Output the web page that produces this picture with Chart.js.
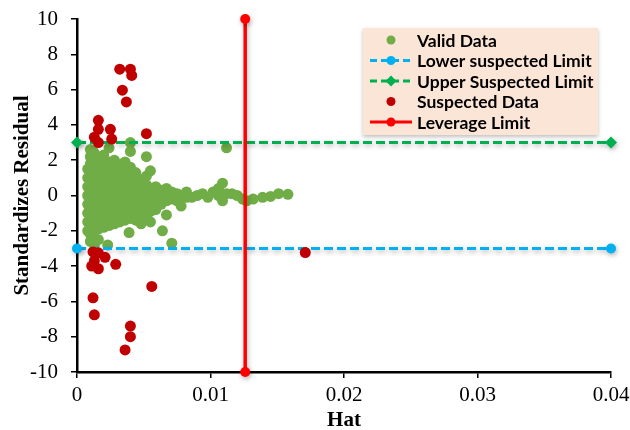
<!DOCTYPE html>
<html>
<head>
<meta charset="utf-8">
<script src="https://cdn.jsdelivr.net/npm/chart.js@4/dist/chart.umd.min.js"></script>
<style>
  html, body { margin: 0; padding: 0; background: #ffffff; }
  #wrap { width: 630px; height: 430px; position: relative; }
</style>
</head>
<body>
<div id="wrap"><canvas id="c"></canvas></div>
<script>
// ---- Data ----
const xTickLabels = ['0', '0.01', '0.02', '0.03', '0.04'];
const yTickLabels = ['-10', '-8', '-6', '-4', '-2', '0', '2', '4', '6', '8', '10'];

const legendLabels = ['Valid Data', 'Lower suspected Limit', 'Upper Suspected Limit', 'Suspected Data', 'Leverage Limit'];

const lowerLimit = -3;
const upperLimit = 3;
const leverageLimit = 0.0126;
const hatRange = [0, 0.04];
const residualRange = [-10, 10];

const validHat = [
  0.0008,0.0008,0.0008,0.0008,0.0008,0.0008,0.0008,0.0008,
  0.0010,0.0010,0.0010,0.0010,0.0010,0.0010,0.0010,0.0010,0.0010,0.0010,0.0010,0.0010,0.0010,0.0010,
  0.0013,0.0013,0.0013,0.0013,0.0013,0.0013,0.0013,0.0013,0.0013,0.0013,0.0013,0.0013,0.0013,0.0013,
  0.0016,0.0016,0.0016,0.0016,0.0016,0.0016,0.0016,0.0016,0.0016,0.0016,0.0016,0.0016,
  0.0020,0.0020,0.0020,0.0020,0.0020,0.0020,0.0020,0.0020,0.0020,0.0020,0.0020,
  0.0024,0.0024,0.0024,0.0024,0.0024,0.0024,0.0024,0.0024,0.0024,0.0024,0.0024,
  0.0028,0.0028,0.0028,0.0028,0.0028,0.0028,0.0028,0.0028,0.0028,0.0028,
  0.0032,0.0032,0.0032,0.0032,0.0032,0.0032,0.0032,0.0032,0.0032,
  0.0036,0.0036,0.0036,0.0036,0.0036,0.0036,0.0036,0.0036,0.0036,
  0.0040,0.0040,0.0040,0.0040,0.0040,0.0040,0.0040,0.0040,0.0040,0.0040,
  0.0044,0.0044,0.0044,0.0044,0.0044,0.0044,0.0044,0.0044,
  0.0048,0.0048,0.0048,0.0048,0.0048,0.0048,0.0048,
  0.0052,0.0052,0.0052,0.0052,0.0052,0.0052,0.0052,
  0.0055,0.0055,0.0055,0.0055,0.0055,0.0055,
  0.0059,0.0059,0.0059,0.0059,
  0.0063,0.0063,0.0063,
  0.0067,0.0067,0.0067,0.0067,
  0.0071,0.0071,
  0.0075,0.0075,
  0.0078,0.0078,
  0.0082,0.0082,
  0.0086,0.0090,0.0094,0.0098,0.0102,
  0.0106,0.0106,
  0.0109,0.0109,
  0.0112,0.0112,
  0.0116,0.0120,0.0124,0.0127,0.0132,0.0139,0.0145,0.0151,0.0158,
  0.0064,0.0071,0.0039,0.0023,0.0034,0.0012
];
const validRes = [
  -2.0,-1.5,-1.0,-0.5,0.0,0.5,1.0,1.5,
  -2.6,-2.2,-1.8,-1.4,-1.0,-0.6,-0.2,0.2,0.6,1.0,1.4,1.8,2.2,2.6,
  -2.8,-2.4,-2.0,-1.6,-1.2,-0.8,-0.4,0.0,0.4,0.8,1.2,1.6,2.0,2.4,
  -2.5,-1.9,-1.5,-1.1,-0.7,-0.3,0.1,0.5,0.9,1.3,1.7,2.1,
  -1.8,-1.4,-1.0,-0.6,-0.2,0.2,0.6,1.0,1.4,1.8,2.3,
  -1.7,-1.3,-0.9,-0.5,-0.1,0.3,0.7,1.1,1.5,1.9,2.7,
  -1.6,-1.2,-0.8,-0.4,0.0,0.4,0.8,1.2,1.6,2.0,
  -1.5,-1.1,-0.7,-0.3,0.1,0.5,0.9,1.3,1.7,
  -1.4,-1.0,-0.6,-0.2,0.2,0.6,1.0,1.5,1.9,
  -1.3,-0.9,-0.5,-0.1,0.3,0.7,1.1,1.6,2.5,3.0,
  -1.4,-1.0,-0.6,-0.2,0.2,0.6,1.0,1.3,
  -1.6,-1.1,-0.7,-0.3,0.1,0.5,0.9,
  -1.2,-0.6,-0.2,0.2,0.6,1.1,2.2,
  -1.5,-0.9,-0.4,0.0,0.4,1.4,
  -0.8,-0.3,0.1,0.5,
  -0.5,-0.1,0.3,
  -1.1,-0.3,0.1,0.4,
  -0.2,0.2,
  -0.3,0.1,
  -0.6,0.0,
  -0.1,0.2,
  -0.1,0.0,0.1,-0.1,0.2,
  0.0,0.4,
  -0.3,0.7,
  0.1,2.7,
  0.1,0.0,-0.2,-0.3,-0.2,-0.1,-0.05,0.1,0.07,
  -2.0,-2.7,-2.1,-2.8,1.8,2.5
];

const suspectedHat = [
  0.0032,0.0040,0.0041,0.0034,0.0037,0.0016,0.0016,0.0025,0.0052,0.0013,0.0016,0.0026,
  0.0012,0.0016,0.0021,0.0013,0.0011,0.0016,0.0029,0.0056,0.0012,0.0013,0.0040,0.0040,0.0036,0.0171
];
const suspectedRes = [
  7.16,7.16,6.8,5.97,5.3,4.26,3.75,3.75,3.5,3.3,3.0,3.2,
  -3.2,-3.25,-3.5,-3.7,-4.0,-4.15,-3.9,-5.15,-5.8,-6.76,-7.4,-8.0,-8.75,-3.23
];

// ---- Colours ----
const cValid = '#70AD47';
const cLower = '#00B0F0';
const cUpper = '#00B050';
const cSusp = '#C00000';
const cLev = '#FF0000';

const toPoints = (xs, ys) => xs.map((x, i) => ({ x: x, y: ys[i] }));

const glowPlugin = {
  id: 'glow',
  beforeDatasetDraw(chart, args) {
    const ds = chart.data.datasets[args.index];
    if (ds.glow) {
      const ctx = chart.ctx;
      ctx.save();
      ctx.shadowColor = 'rgba(0,0,0,0.30)';
      ctx.shadowBlur = 5;
      ctx.shadowOffsetX = 1;
      ctx.shadowOffsetY = 2;
    }
  },
  afterDatasetDraw(chart, args) {
    const ds = chart.data.datasets[args.index];
    if (ds.glow) chart.ctx.restore();
  }
};

const legendPlugin = {
  id: 'boxLegend',
  afterDraw(chart) {
    const ctx = chart.ctx;
    const a = chart.chartArea;
    const w = 235, h = 107;
    const left = a.right - 13 - w;
    const top = a.top + 9;
    ctx.save();
    ctx.shadowColor = 'rgba(0,0,0,0.25)';
    ctx.shadowBlur = 4;
    ctx.shadowOffsetY = 2;
    ctx.fillStyle = '#FBE5D6';
    ctx.fillRect(left, top, w, h);
    ctx.restore();

    const mx = left + 28;
    const styles = [
      { color: cValid, line: false, dash: [], marker: 'circle' },
      { color: cLower, line: true, dash: [7, 4], marker: 'circle' },
      { color: cUpper, line: true, dash: [7, 4], marker: 'diamond' },
      { color: cSusp, line: false, dash: [], marker: 'circle' },
      { color: cLev, line: true, dash: [], marker: 'circle' }
    ];
    ctx.save();
    ctx.font = 'bold 17.5px Lato';
    ctx.textBaseline = 'middle';
    ctx.textAlign = 'left';
    legendLabels.forEach((lab, i) => {
      const y = top + 12 + i * 20.5;
      const s = styles[i];
      if (s.line) {
        ctx.beginPath();
        ctx.setLineDash(s.dash);
        ctx.strokeStyle = s.color;
        ctx.lineWidth = 3;
        ctx.moveTo(mx - 21, y);
        ctx.lineTo(mx + 21, y);
        ctx.stroke();
        ctx.setLineDash([]);
      }
      ctx.fillStyle = s.color;
      ctx.beginPath();
      if (s.marker === 'diamond') {
        ctx.moveTo(mx, y - 5.5);
        ctx.lineTo(mx + 5.5, y);
        ctx.lineTo(mx, y + 5.5);
        ctx.lineTo(mx - 5.5, y);
        ctx.closePath();
      } else {
        ctx.arc(mx, y, 4.5, 0, Math.PI * 2);
      }
      ctx.fill();
      ctx.fillStyle = '#000';
      ctx.fillText(lab, left + 54, y + 1);
    });
    ctx.restore();
  }
};

const tickFont = { family: 'Liberation Serif', size: 21 };
const titleFont = { family: 'Liberation Serif', size: 21, weight: 'bold', lineHeight: 1.1 };

new Chart(document.getElementById('c'), {
  type: 'scatter',
  data: {
    datasets: [
      {
        label: legendLabels[0],
        data: toPoints(validHat, validRes),
        backgroundColor: cValid, borderWidth: 0,
        pointRadius: 5.5, order: 4
      },
      {
        label: legendLabels[1],
        type: 'line',
        data: [{ x: hatRange[0], y: lowerLimit }, { x: hatRange[1], y: lowerLimit }],
        borderColor: cLower, backgroundColor: cLower, borderWidth: 3, borderDash: [9, 4],
        pointRadius: 5, pointBackgroundColor: cLower, pointBorderWidth: 0,
        fill: false, clip: false, glow: true, order: 3
      },
      {
        label: legendLabels[2],
        type: 'line',
        data: [{ x: hatRange[0], y: upperLimit }, { x: hatRange[1], y: upperLimit }],
        borderColor: cUpper, backgroundColor: cUpper, borderWidth: 3, borderDash: [9, 4],
        pointRadius: 6, pointStyle: 'rectRot', pointBackgroundColor: cUpper, pointBorderWidth: 0,
        fill: false, clip: false, glow: true, order: 2
      },
      {
        label: legendLabels[3],
        data: toPoints(suspectedHat, suspectedRes),
        backgroundColor: cSusp, borderWidth: 0,
        pointRadius: 5.5, order: 1
      },
      {
        label: legendLabels[4],
        type: 'line',
        data: [{ x: leverageLimit, y: residualRange[0] }, { x: leverageLimit, y: residualRange[1] }],
        borderColor: cLev, backgroundColor: cLev, borderWidth: 3.5,
        pointRadius: 5, pointBackgroundColor: cLev, pointBorderWidth: 0,
        fill: false, clip: false, glow: true, order: 0
      }
    ]
  },
  options: {
    responsive: true,
    maintainAspectRatio: false,
    animation: false,
    events: [],
    layout: { padding: { left: 0, right: 19, top: 19, bottom: 0 } },
    plugins: { legend: { display: false }, tooltip: { enabled: false } },
    scales: {
      x: {
        type: 'linear',
        min: hatRange[0], max: hatRange[1],
        afterFit(s) { s.height = 58; s.paddingLeft = 0; s.paddingRight = 0; },
        ticks: {
          stepSize: 0.01, maxRotation: 0, minRotation: 0, autoSkip: false,
          color: '#000', font: tickFont, padding: 5,
          callback: (v, i) => xTickLabels[i]
        },
        grid: { display: true, drawOnChartArea: false, drawTicks: true, tickLength: 6, color: '#000', lineWidth: 1.5 },
        border: { display: true, color: '#000', width: 2.5 },
        title: { display: true, text: 'Hat', color: '#000', font: titleFont, padding: { top: 0, bottom: -2 } }
      },
      y: {
        type: 'linear',
        min: residualRange[0], max: residualRange[1],
        afterFit(s) { s.width = 77; s.paddingTop = 0; s.paddingBottom = 0; },
        ticks: {
          stepSize: 2, autoSkip: false,
          color: '#000', font: tickFont, padding: 13,
          callback: (v, i) => yTickLabels[i]
        },
        grid: { display: true, drawOnChartArea: false, drawTicks: true, tickLength: 6, color: '#000', lineWidth: 1.5 },
        border: { display: true, color: '#000', width: 2.5 },
        title: { display: true, text: 'Standardizes Residual', color: '#000', font: titleFont, padding: { top: 11.5, bottom: 0 } }
      }
    }
  },
  plugins: [glowPlugin, legendPlugin]
});
</script>
</body>
</html>
